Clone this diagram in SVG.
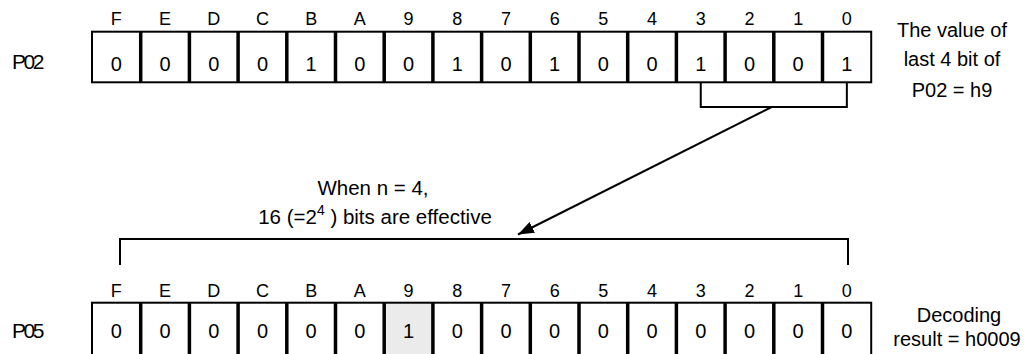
<svg xmlns="http://www.w3.org/2000/svg" width="1033" height="354" viewBox="0 0 1033 354">
<style>
text{font-family:"Liberation Sans",Arial,sans-serif;fill:#000}
.hd{font-size:18px;text-anchor:middle}
.dg{font-size:20px;text-anchor:middle}
.lbl{font-size:21px;letter-spacing:-2.5px}
.note{font-size:20px;text-anchor:middle}
.mid{font-size:20.5px;text-anchor:middle}
.outer{fill:none;stroke:#000;stroke-width:2}
.div{stroke:#000;stroke-width:3.5}
.ln{fill:none;stroke:#000;stroke-width:2}
</style>
<defs>
<marker id="ah" markerUnits="userSpaceOnUse" markerWidth="18" markerHeight="12" refX="16" refY="6" orient="auto">
<path d="M0,0 L16,6 L0,12 Z" fill="#000"/>
</marker>
</defs>

<g id="P02">
<text class="lbl" x="12" y="68.5">P02</text>
<g class="hd-row">
<text class="hd" x="116.35" y="25">F</text><text class="hd" x="165.05" y="25">E</text><text class="hd" x="213.75" y="25">D</text><text class="hd" x="262.45" y="25">C</text><text class="hd" x="311.15" y="25">B</text><text class="hd" x="359.85" y="25">A</text><text class="hd" x="408.55" y="25">9</text><text class="hd" x="457.25" y="25">8</text><text class="hd" x="505.95" y="25">7</text><text class="hd" x="554.65" y="25">6</text><text class="hd" x="603.35" y="25">5</text><text class="hd" x="652.05" y="25">4</text><text class="hd" x="700.75" y="25">3</text><text class="hd" x="749.45" y="25">2</text><text class="hd" x="798.15" y="25">1</text><text class="hd" x="846.85" y="25">0</text>
</g>
<rect class="outer" x="92" y="31.7" width="779.2" height="50.6"/>
<g class="div">
<line x1="140.7" y1="31.7" x2="140.7" y2="82.3"/><line x1="189.4" y1="31.7" x2="189.4" y2="82.3"/><line x1="238.1" y1="31.7" x2="238.1" y2="82.3"/><line x1="286.8" y1="31.7" x2="286.8" y2="82.3"/><line x1="335.5" y1="31.7" x2="335.5" y2="82.3"/><line x1="384.2" y1="31.7" x2="384.2" y2="82.3"/><line x1="432.9" y1="31.7" x2="432.9" y2="82.3"/><line x1="481.6" y1="31.7" x2="481.6" y2="82.3"/><line x1="530.3" y1="31.7" x2="530.3" y2="82.3"/><line x1="579" y1="31.7" x2="579" y2="82.3"/><line x1="627.7" y1="31.7" x2="627.7" y2="82.3"/><line x1="676.4" y1="31.7" x2="676.4" y2="82.3"/><line x1="725.1" y1="31.7" x2="725.1" y2="82.3"/><line x1="773.8" y1="31.7" x2="773.8" y2="82.3"/><line x1="822.5" y1="31.7" x2="822.5" y2="82.3"/>
</g>
<text class="dg" x="116.35" y="70.7">0</text><text class="dg" x="165.05" y="70.7">0</text><text class="dg" x="213.75" y="70.7">0</text><text class="dg" x="262.45" y="70.7">0</text><text class="dg" x="311.15" y="70.7">1</text><text class="dg" x="359.85" y="70.7">0</text><text class="dg" x="408.55" y="70.7">0</text><text class="dg" x="457.25" y="70.7">1</text><text class="dg" x="505.95" y="70.7">0</text><text class="dg" x="554.65" y="70.7">1</text><text class="dg" x="603.35" y="70.7">0</text><text class="dg" x="652.05" y="70.7">0</text><text class="dg" x="700.75" y="70.7">1</text><text class="dg" x="749.45" y="70.7">0</text><text class="dg" x="798.15" y="70.7">0</text><text class="dg" x="846.85" y="70.7">1</text>
<text class="note" x="952" y="37">The value of</text>
<text class="note" x="952" y="66">last 4 bit of</text>
<text class="note" x="952" y="96.5">P02 = h9</text>
</g>

<g id="P05">
<text class="lbl" x="12" y="338">P05</text>
<text class="hd" x="116.35" y="297">F</text><text class="hd" x="165.05" y="297">E</text><text class="hd" x="213.75" y="297">D</text><text class="hd" x="262.45" y="297">C</text><text class="hd" x="311.15" y="297">B</text><text class="hd" x="359.85" y="297">A</text><text class="hd" x="408.55" y="297">9</text><text class="hd" x="457.25" y="297">8</text><text class="hd" x="505.95" y="297">7</text><text class="hd" x="554.65" y="297">6</text><text class="hd" x="603.35" y="297">5</text><text class="hd" x="652.05" y="297">4</text><text class="hd" x="700.75" y="297">3</text><text class="hd" x="749.45" y="297">2</text><text class="hd" x="798.15" y="297">1</text><text class="hd" x="846.85" y="297">0</text>
<rect x="384.2" y="302.7" width="48.7" height="60" fill="#ebebeb"/>
<rect class="outer" x="92" y="302.7" width="779.2" height="60"/>
<g class="div">
<line x1="140.7" y1="302.7" x2="140.7" y2="362"/><line x1="189.4" y1="302.7" x2="189.4" y2="362"/><line x1="238.1" y1="302.7" x2="238.1" y2="362"/><line x1="286.8" y1="302.7" x2="286.8" y2="362"/><line x1="335.5" y1="302.7" x2="335.5" y2="362"/><line x1="384.2" y1="302.7" x2="384.2" y2="362"/><line x1="432.9" y1="302.7" x2="432.9" y2="362"/><line x1="481.6" y1="302.7" x2="481.6" y2="362"/><line x1="530.3" y1="302.7" x2="530.3" y2="362"/><line x1="579" y1="302.7" x2="579" y2="362"/><line x1="627.7" y1="302.7" x2="627.7" y2="362"/><line x1="676.4" y1="302.7" x2="676.4" y2="362"/><line x1="725.1" y1="302.7" x2="725.1" y2="362"/><line x1="773.8" y1="302.7" x2="773.8" y2="362"/><line x1="822.5" y1="302.7" x2="822.5" y2="362"/>
</g>
<text class="dg" x="116.35" y="338">0</text><text class="dg" x="165.05" y="338">0</text><text class="dg" x="213.75" y="338">0</text><text class="dg" x="262.45" y="338">0</text><text class="dg" x="311.15" y="338">0</text><text class="dg" x="359.85" y="338">0</text><text class="dg" x="408.55" y="338">1</text><text class="dg" x="457.25" y="338">0</text><text class="dg" x="505.95" y="338">0</text><text class="dg" x="554.65" y="338">0</text><text class="dg" x="603.35" y="338">0</text><text class="dg" x="652.05" y="338">0</text><text class="dg" x="700.75" y="338">0</text><text class="dg" x="749.45" y="338">0</text><text class="dg" x="798.15" y="338">0</text><text class="dg" x="846.85" y="338">0</text>
<text class="note" x="959" y="322">Decoding</text>
<text class="note" x="957" y="346">result = h0009</text>
</g>

<g id="connectors">
<path class="ln" d="M700.75,82.3 V107 H846.85 V82.3"/>
<line class="ln" x1="771.7" y1="107" x2="518" y2="234.5" marker-end="url(#ah)"/>
<path class="ln" d="M120,265 V239 H848 V265"/>
<text class="mid" x="373" y="195">When n = 4,</text>
<text class="mid" x="375" y="224">16 (=2<tspan dy="-9" style="font-size:14px">4</tspan><tspan dy="9"> ) bits are effective</tspan></text>
</g>
</svg>
